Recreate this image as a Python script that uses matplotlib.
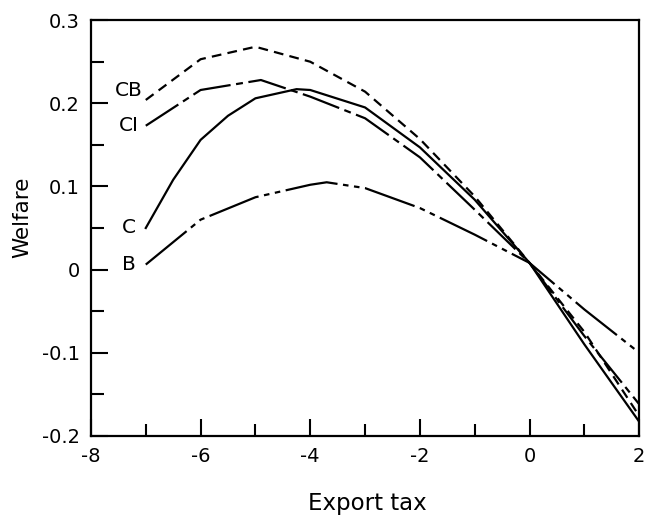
"""
Welfare vs export tax for the four policy regimes (B, C, CI, CB).
"""

import matplotlib
matplotlib.use("Agg")

import matplotlib.pyplot as plt
from matplotlib.ticker import MultipleLocator

# ── data ────────────────────────────────────────────────────────────────────
tax_cb = [-7, -6, -5, -4, -3, -2, -1, 0, 1, 2]
welfare_cb = [0.204, 0.253, 0.268, 0.250, 0.214, 0.157, 0.088, 0.008, -0.075, -0.176]

tax_ci = [-7, -6, -4.9, -4, -3, -2, -1, 0, 1, 2]
welfare_ci = [0.173, 0.216, 0.228, 0.208, 0.182, 0.135, 0.072, 0.008, -0.080, -0.162]

tax_c = [-7, -6.5, -6, -5.5, -5, -4.25, -4, -3, -2, -1, 0, 1, 2]
welfare_c = [0.050, 0.108, 0.156, 0.185, 0.206, 0.217, 0.216, 0.195, 0.147, 0.084, 0.008, -0.090, -0.183]

tax_b = [-7, -6, -5, -4, -3.7, -3, -2, -1, 0, 1, 2]
welfare_b = [0.006, 0.060, 0.087, 0.102, 0.105, 0.098, 0.074, 0.042, 0.008, -0.048, -0.100]

curve_labels = ["CB", "CI", "C", "B"]
label_y = [0.215, 0.173, 0.050, 0.006]

# ── style ───────────────────────────────────────────────────────────────────
plt.rcParams.update({
    "font.family": "DejaVu Sans",
    "font.size": 14,
    "lines.scale_dashes": False,
})

fig = plt.figure(figsize=(6.45, 5.17), dpi=100)
ax = fig.add_axes([0.141, 0.157, 0.850, 0.804])

lw = 1.6
ax.plot(tax_cb, welfare_cb, color="black", lw=lw, dashes=(7, 4.5))
ax.plot(tax_ci, welfare_ci, color="black", lw=lw, dashes=(28, 4, 5, 4))
ax.plot(tax_c, welfare_c, color="black", lw=lw)
ax.plot(tax_b, welfare_b, color="black", lw=lw, dashes=(38, 4, 4, 4, 4, 4))

for lab, yv in zip(curve_labels, label_y):
    ax.text(-7.31, yv, lab, ha="center", va="center", fontsize=14.5)

ax.set_xlim(-8, 2)
ax.set_ylim(-0.2, 0.3)
ax.xaxis.set_minor_locator(MultipleLocator(1))
ax.yaxis.set_minor_locator(MultipleLocator(0.05))

xt = [-8, -6, -4, -2, 0, 2]
ax.set_xticks(xt)
ax.set_xticklabels([str(v) for v in xt])
yt = [-0.2, -0.1, 0, 0.1, 0.2, 0.3]
ax.set_yticks(yt)
ax.set_yticklabels(["-0.2", "-0.1", "0", "0.1", "0.2", "0.3"])

ax.tick_params(which="major", direction="in", length=12, width=1.5, pad=8, labelsize=14)
ax.tick_params(which="minor", direction="in", length=9, width=1.5)
ax.tick_params(top=False, right=False, which="both")

for sp in ax.spines.values():
    sp.set_linewidth(1.6)

ax.set_xlabel("Export tax", fontsize=16.5, va="center")
ax.xaxis.set_label_coords(0.505, -0.163)
ax.set_ylabel("Welfare", fontsize=15.5, va="center")
ax.yaxis.set_label_coords(-0.126, 0.526)

fig.savefig("out.png", dpi=100)
